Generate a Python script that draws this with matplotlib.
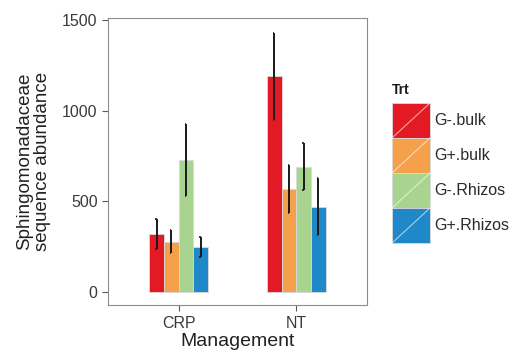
import numpy as np
import matplotlib
matplotlib.use("Agg")
import matplotlib.pyplot as plt
from matplotlib.patches import Rectangle
from matplotlib.lines import Line2D

plt.rcParams['font.family'] = ['Liberation Sans', 'DejaVu Sans']

# --- dados ---
management = ['CRP', 'NT']
treatments = ['G-.bulk', 'G+.bulk', 'G-.Rhizos', 'G+.Rhizos']
means = {
    'G-.bulk':   [320, 1190],
    'G+.bulk':   [278, 570],
    'G-.Rhizos': [728, 693],
    'G+.Rhizos': [250, 470],
}
errs = {
    'G-.bulk':   [85, 240],
    'G+.bulk':   [65, 132],
    'G-.Rhizos': [200, 128],
    'G+.Rhizos': [55, 157],
}
yticks = [0, 500, 1000, 1500]

COLORS = ['#e31a23', '#f5a04a', '#a9d490', '#1f88c8']

fig = plt.figure(figsize=(5.19, 3.56), dpi=100)
ax = fig.add_axes([0.208, 0.143, 0.499, 0.806])

x = np.arange(1, len(management) + 1)
group_w = 0.5
bw = group_w / len(treatments)
cap = 0.012  # meia-tampa do erro, para a esquerda
for i, t in enumerate(treatments):
    pos = x - group_w / 2 + bw * (i + 0.5)
    m = np.array(means[t])
    e = np.array(errs[t])
    ax.bar(pos, m, width=bw, color=COLORS[i], edgecolor='#d9d9d9',
           linewidth=0.6, zorder=2)
    ax.vlines(pos, m - e, m + e, color='#1a1a1a', linewidth=1.4, zorder=3)
    ax.hlines(m + e, pos - cap, pos, color='#1a1a1a', linewidth=1.2, zorder=3)
    ax.hlines(m - e, pos - cap, pos, color='#1a1a1a', linewidth=1.2, zorder=3)

ax.set_xlim(0.4, 2.6)
ax.set_ylim(-72, 1512)
ax.set_xticks(x)
ax.set_xticklabels(management)
ax.set_yticks(yticks)
ax.set_yticklabels([str(v) for v in yticks])
for s in ax.spines.values():
    s.set_color('#8c8c8c')
    s.set_linewidth(0.8)
ax.tick_params(colors='#5a5a5a', labelcolor='#3a3a3a', labelsize=11.5,
               length=4, width=0.8)
ax.set_xlabel('Management', fontsize=14, color='#222222', labelpad=2)
ax.set_ylabel('Sphingomonadaceae\nsequence abundance', fontsize=13.5,
              color='#222222', labelpad=8, linespacing=1.1)

# legenda
fig.text(392 / 519, 1 - 90 / 356, 'Trt', fontsize=10, fontweight='bold',
         va='center', ha='left', color='#1a1a1a')
key_w, key_h = 38 / 519, 35 / 356
for i, t in enumerate(treatments):
    x0 = 392 / 519
    y0 = 1 - (103 + 35 * (i + 1)) / 356
    fig.add_artist(Rectangle((x0, y0), key_w, key_h, transform=fig.transFigure,
                             facecolor=COLORS[i], edgecolor='#d9d9d9', linewidth=0.6))
    fig.add_artist(Line2D([x0, x0 + key_w], [y0, y0 + key_h], transform=fig.transFigure,
                          color='white', alpha=0.6, linewidth=0.8))
    fig.text(x0 + key_w + 4 / 519, y0 + key_h / 2, t, fontsize=11.5,
             va='center', ha='left', color='#2a2a2a')

fig.savefig('out.png', dpi=100)
